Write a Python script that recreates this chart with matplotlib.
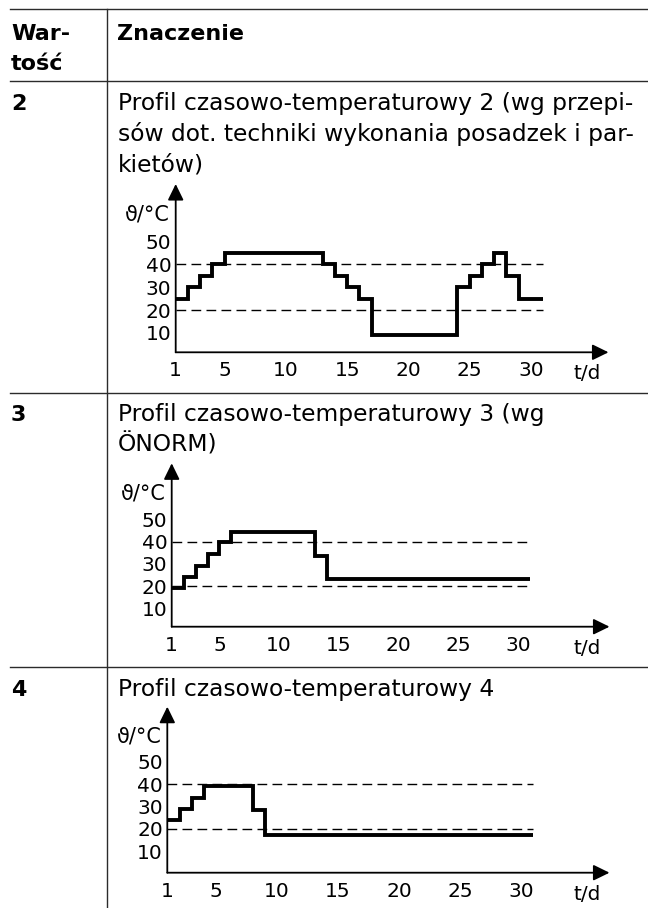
import numpy as np
import matplotlib
matplotlib.use("Agg")
import matplotlib.pyplot as plt
from matplotlib.lines import Line2D
from matplotlib.patches import FancyArrowPatch, ArrowStyle

plt.rcParams['font.family'] = ['DejaVu Sans']

# ---- table content -------------------------------------------------------
header_value = ["War-", "tość"]
header_meaning = "Znaczenie"
row_values = ["2", "3", "4"]
row_texts = [
    ["Profil czasowo-temperaturowy 2 (wg przepi-",
     "sów dot. techniki wykonania posadzek i par-",
     "kietów)"],
    ["Profil czasowo-temperaturowy 3 (wg",
     "ÖNORM)"],
    ["Profil czasowo-temperaturowy 4"],
]

# ---- chart data: daily flow temperature (°C) for days 1..30 ----------------
days = list(range(1, 31))
profile2_temps = [25, 30, 35, 40, 45, 45, 45, 45, 45, 45, 45, 45, 40, 35, 30, 25,
                  9, 9, 9, 9, 9, 9, 9, 30, 35, 40, 45, 35, 25, 25]
profile3_temps = [19, 24, 29, 34.5, 40, 44.5, 44.5, 44.5, 44.5, 44.5, 44.5, 44.5,
                  33.5] + [23] * 17
profile4_temps = [24, 29, 34, 39, 39, 39, 39, 28.5] + [17.5] * 22
limit_lines = [20, 40]
x_ticks = [1, 5, 10, 15, 20, 25, 30]
y_ticks = [10, 20, 30, 40, 50]
y_label = "ϑ/°C"
x_label = "t/d"

W, H = 648, 908
fig = plt.figure(figsize=(W / 100, H / 100), dpi=100)


def fx(px):
    return px / W


def fy(py):
    return 1 - py / H


line_kw = dict(color="#2b2b2b", lw=1.0, transform=fig.transFigure)

# table rules
for y in (9, 81, 392.5, 667):
    fig.add_artist(Line2D([fx(10), fx(648)], [fy(y), fy(y)], **line_kw))
fig.add_artist(Line2D([fx(107.3), fx(107.3)], [fy(9), fy(908)], **line_kw))

head_size = 16
body_size = 16.8
fig.text(fx(11), fy(40), header_value[0], fontsize=head_size, fontweight="bold", va="baseline")
fig.text(fx(11), fy(70), header_value[1], fontsize=head_size, fontweight="bold", va="baseline")
fig.text(fx(117.5), fy(40), header_meaning, fontsize=head_size, fontweight="bold", va="baseline")

row_baselines = [110, 421, 695.7]
line_step = 31
for val, lines, base in zip(row_values, row_texts, row_baselines):
    fig.text(fx(11), fy(base), val, fontsize=head_size, fontweight="bold", va="baseline")
    for k, txt in enumerate(lines):
        fig.text(fx(117.5), fy(base + k * line_step), txt, fontsize=body_size, va="baseline")

# chart geometry in pixels: y-axis x, x-axis y, arrow tips, y of 40 and 20 °C, px per day
charts = [
    dict(temps=profile2_temps, x0=175.7, xaxis=352.3, tip_y=184.0, tip_x=608.5,
         y40=264.3, y20=310.0, pxday=12.25),
    dict(temps=profile3_temps, x0=171.7, xaxis=626.7, tip_y=463.3, tip_x=609.5,
         y40=541.7, y20=586.0, pxday=11.94),
    dict(temps=profile4_temps, x0=167.3, xaxis=872.7, tip_y=706.7, tip_x=609.5,
         y40=784.0, y20=829.0, pxday=12.2),
]

tick_size = 14.5
for c in charts:
    left, right = fx(c["x0"]), fx(c["tip_x"])
    bottom, top = fy(c["xaxis"]), fy(c["tip_y"])
    ax = fig.add_axes([left, bottom, right - left, top - bottom])
    s = (c["y20"] - c["y40"]) / 20.0
    ymin = 20 - (c["xaxis"] - c["y20"]) / s
    ymax = 40 + (c["y40"] - c["tip_y"]) / s
    xmax = days[0] + (c["tip_x"] - c["x0"]) / c["pxday"]
    ax.set_xlim(days[0], xmax)
    ax.set_ylim(ymin, ymax)
    ax.patch.set_visible(False)
    for sp in ax.spines.values():
        sp.set_visible(False)

    edges = np.append(days, days[-1] + 1)
    ax.hlines(limit_lines, edges[0], edges[-1], colors="black", lw=1.0,
              linestyles=(0, (7, 3.8)), zorder=2)
    st = ax.stairs(c["temps"], edges, baseline=None, color="black", lw=2.8, zorder=3)
    st.set_joinstyle("miter")
    st.set_capstyle("butt")

    style = ArrowStyle("-|>", head_length=9.8, head_width=4.8)
    for a, b in (((0, 0), (1, 0)), ((0, 0), (0, 1))):
        arr = FancyArrowPatch(a, b, transform=ax.transAxes, arrowstyle=style,
                              mutation_scale=1, lw=1.3, color="black",
                              shrinkA=0, shrinkB=0, clip_on=False, zorder=4)
        ax.add_patch(arr)

    ax.set_xticks(x_ticks)
    ax.set_xticklabels([str(t) for t in x_ticks], fontsize=tick_size)
    ax.set_yticks(y_ticks)
    ax.set_yticklabels([str(t) for t in y_ticks], fontsize=tick_size)
    ax.tick_params(length=0)
    ax.tick_params(axis="x", pad=6.5)
    ax.tick_params(axis="y", pad=3.2)

    fig.text(fx(c["x0"] - 6), fy(c["tip_y"] + 36), y_label, fontsize=15,
             ha="right", va="baseline")
    fig.text(fx(587.5), fy(c["xaxis"] + 27), x_label, fontsize=tick_size,
             ha="center", va="baseline")

fig.savefig("out.png", dpi=100)
